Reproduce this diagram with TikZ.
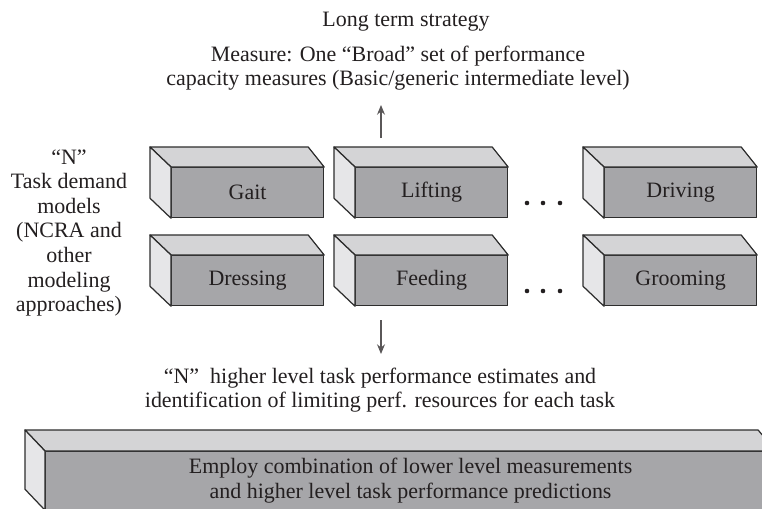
\documentclass[tikz,border=0pt]{standalone}
\usepackage{fontspec}
\setmainfont{Liberation Serif}
\usetikzlibrary{arrows.meta, positioning, calc}

\definecolor{ink}{RGB}{35,31,32}
\definecolor{edge}{RGB}{45,45,45}
\definecolor{boxfront}{RGB}{166,166,169}
\definecolor{boxtop}{RGB}{212,212,214}
\definecolor{boxside}{RGB}{230,230,232}

\begin{document}
\begin{tikzpicture}[x=0.02cm, y=-0.02cm, >={Stealth[length=5.5pt, width=4.5pt]}, line join=round,
    front/.style={draw=edge, fill=boxfront, line width=0.7pt, anchor=north west, inner sep=0pt,
        minimum width=3.04cm, minimum height=1cm, text=ink, font=\fontsize{12.5}{14}\selectfont},
    topface/.style={draw=edge, fill=boxtop, line width=0.7pt},
    sideface/.style={draw=edge, fill=boxside, line width=0.7pt},
    txt/.style={text=ink, align=center, font=\fontsize{12.5}{14}\selectfont},
    flow/.style={->, draw=ink!75, line width=0.7pt}]
    \useasboundingbox (0,0) rectangle (762,508);
    \begin{scope}
    \clip (0,0) rectangle (762,508);

    % texts
    \node[txt] (strategy) at (406,22) {Long term strategy};
    \node[txt] (measure) at (398,68) {Measure: One “Broad” set of performance\\capacity measures (Basic/generic intermediate level)};
    \node[txt] (models) at (69,233) {“N”\\Task demand\\models\\(NCRA and\\other\\modeling\\approaches)};
    \node[txt] (estimates) at (380,390) {“N”\ \ higher level task performance estimates and\\identification of limiting perf. resources for each task};

    % task boxes
    \foreach \name/\x/\y/\label in {gait/171/167/Gait, lift/355/167/Lifting, drive/604/167/Driving,
        dress/171/255/Dressing, feed/355/255/Feeding, groom/604/255/Grooming} {
        \node[front] (\name) at (\x,\y) {\label};
        \draw[topface] (\name.north west) -- ++(-21,-20) -- ($(\name.north east)+(-16,-20)$) -- (\name.north east) -- cycle;
        \draw[sideface] (\name.north west) -- ++(-21,-20) -- ($(\name.south west)+(-21,-20)$) -- (\name.south west) -- cycle;
    }

    % dots
    \foreach \y in {203,291}
        \foreach \x in {527,543,560}
            \fill[ink] (\x,\y) circle[radius=1.3pt];

    % bottom box
    \node[front, minimum width=14.6cm, minimum height=1.16cm, align=center] (combine) at (45,451)
        {Employ combination of lower level measurements\\and higher level task performance predictions};
    \draw[topface] (combine.north west) -- ++(-20,-21) -- ($(combine.north east)+(-18,-21)$) -- (combine.north east) -- cycle;
    \draw[sideface] (combine.north west) -- ++(-20,-21) -- ($(combine.south west)+(-20,-21)$) -- (combine.south west) -- cycle;

    % arrows
    \coordinate (uptail) at (381,138);
    \coordinate (uptip) at (381,105);
    \coordinate (downtail) at (381,320);
    \coordinate (downtip) at (381,354);
    \draw[flow] (uptail) -- (uptip);
    \draw[flow] (downtail) -- (downtip);
    \end{scope}
\end{tikzpicture}
\end{document}
